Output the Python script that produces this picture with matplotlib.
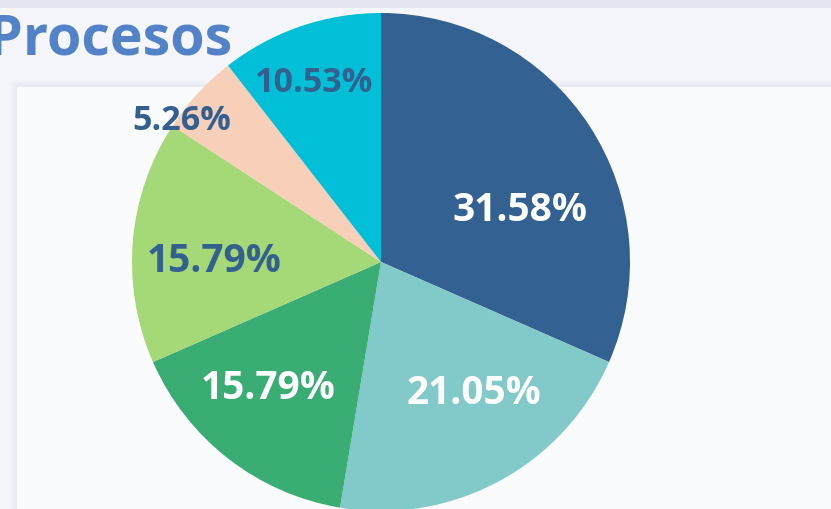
import numpy as np
import matplotlib.pyplot as plt
from matplotlib.patches import Rectangle

# datos del grafico (porcentajes por proceso)
values = [31.58, 21.05, 15.79, 15.79, 5.26, 10.53]
labels = ["31.58%", "21.05%", "15.79%", "15.79%", "5.26%", "10.53%"]
colors = ["#336192", "#82cac9", "#3aad74", "#a5d876", "#f8cfb9", "#00bfd6"]
text_colors = ["white", "white", "white", "#34608f", "#34608f", "#34608f"]
# posiciones de las etiquetas (en radios del pastel)
label_pos = [(0.558, 0.207), (0.373, -0.528), (-0.454, -0.508),
             (-0.671, 0.002), (-0.799, 0.566), (-0.269, 0.719)]
label_size = [28, 28, 28, 28, 24.5, 24.5]
title = "Procesos"
FONT = "Open Sans"

W, H = 831, 509
fig = plt.figure(figsize=(W / 100, H / 100), dpi=100)
fig.patch.set_facecolor("#f5f6fb")

# fondo: banda superior, tarjeta y sombra
bg = fig.add_axes([0, 0, 1, 1])
bg.set_xlim(0, W)
bg.set_ylim(H, 0)
bg.axis("off")
bg.add_patch(Rectangle((0, 0), W, 8, color="#e4e6ef", lw=0))
for i in range(8):
    bg.add_patch(Rectangle((17 - i, 87 - i), W, H, color="#c8cbdb",
                           alpha=0.03, lw=0))
bg.add_patch(Rectangle((17, 87), W, H, color="#fafbfd", lw=0))
bg.text(232, 54, title, ha="right", va="baseline", fontsize=40,
        fontweight="bold", color="#5282c8", family=FONT)

# pastel
cx, cy, r = 381, 262, 249
ax = fig.add_axes([(cx - r) / W, (H - cy - r) / H, 2 * r / W, 2 * r / H])
wedges, _ = ax.pie(values, colors=colors, startangle=90, counterclock=False,
                   radius=1, wedgeprops=dict(linewidth=0))
ax.set_xlim(-1, 1)
ax.set_ylim(-1, 1)
ax.axis("off")

for lab, (x, y), c, s in zip(labels, label_pos, text_colors, label_size):
    ax.text(x, y, lab, ha="center", va="center", fontsize=s,
            fontweight="bold", color=c, family=FONT, clip_on=False)

fig.savefig("out.png", dpi=100)
